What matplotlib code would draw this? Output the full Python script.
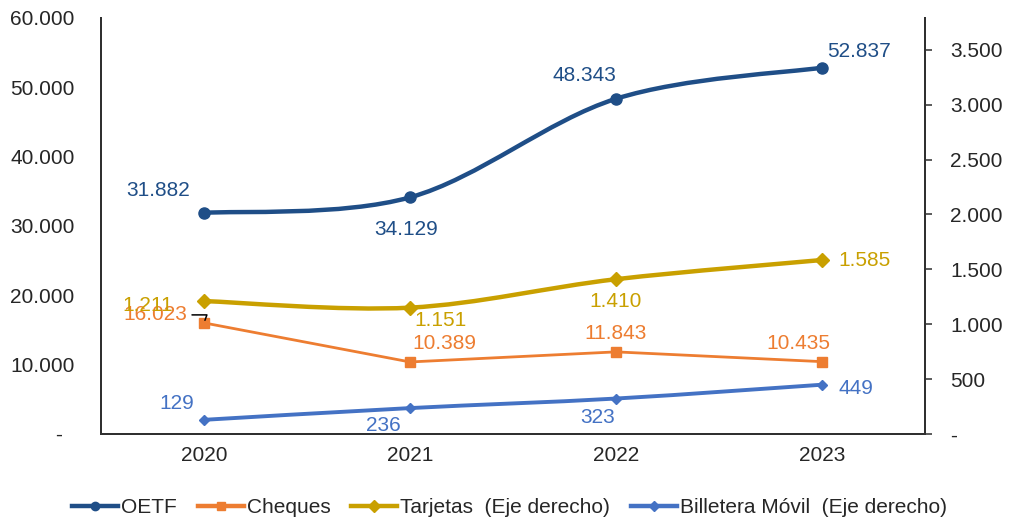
import numpy as np
from matplotlib import pyplot as plt
from matplotlib.path import Path
from matplotlib.patches import PathPatch
from matplotlib.lines import Line2D
from matplotlib.ticker import FuncFormatter

plt.rcParams['font.family'] = ['Liberation Sans', 'DejaVu Sans']

years = ['2020', '2021', '2022', '2023']
oetf = [31882, 34129, 48343, 52837]
cheques = [16023, 10389, 11843, 10435]
tarjetas = [1211, 1151, 1410, 1585]
billetera = [129, 236, 323, 449]

c_oetf = '#1F4E87'
c_cheq = '#ED7D31'
c_tarj = '#C9A000'
c_bill = '#4472C4'
c_txt = '#262626'


def fmt(v):
    return '{:,.0f}'.format(v).replace(',', '.')


def smooth_path(x, y):
    # Catmull-Rom style bezier through the points (like excel smoothed lines)
    p = np.column_stack([x, y]).astype(float)
    n = len(p)
    verts = [p[0]]
    codes = [Path.MOVETO]
    for i in range(n - 1):
        p0 = p[i - 1] if i > 0 else p[i]
        p3 = p[i + 2] if i + 2 < n else p[i + 1]
        c1 = p[i] + (p[i + 1] - p0) / 6.0
        c2 = p[i + 1] - (p3 - p[i]) / 6.0
        verts += [c1, c2, p[i + 1]]
        codes += [Path.CURVE4] * 3
    return Path(verts, codes)


fig = plt.figure(figsize=(10.09, 5.21), dpi=100)
ax = fig.add_axes([0.1001, 0.167, 0.8166, 0.7985])
ax2 = ax.twinx()

x = np.arange(len(years))

ax.set_xlim(-0.5, 3.5)
ax.set_ylim(0, 60000)
ax2.set_ylim(0, 3790)

# OETF (left, smoothed)
ax.add_patch(PathPatch(smooth_path(x, oetf), fill=False, edgecolor=c_oetf, lw=3.2, zorder=3))
ax.plot(x, oetf, 'o', color=c_oetf, ms=8, zorder=4)
# Cheques (left, straight)
ax.plot(x, cheques, '-s', color=c_cheq, lw=2.0, ms=6.5, zorder=3)
# Tarjetas (right, smoothed)
ax2.add_patch(PathPatch(smooth_path(x, tarjetas), fill=False, edgecolor=c_tarj, lw=3.2, zorder=3))
ax2.plot(x, tarjetas, 'D', color=c_tarj, ms=7.5, zorder=4)
# Billetera (right, smoothed)
ax2.add_patch(PathPatch(smooth_path(x, billetera), fill=False, edgecolor=c_bill, lw=2.8, zorder=3))
ax2.plot(x, billetera, 'D', color=c_bill, ms=5.5, zorder=4)

lab_kw = dict(textcoords='offset pixels', fontsize=15, ha='center', va='center')

off_oetf = [(-46, 22), (-4, -32), (-32, 23), (37, 16)]
off_cheq = [(-49, 8), (34, 18), (0, 18), (-24, 18)]
off_tarj = [(-56, -4), (31, -13), (0, -22), (43, 0)]
off_bill = [(-27, 16), (-27, -17), (-18, -19), (34, -4)]

for i in range(len(years)):
    ax.annotate(fmt(oetf[i]), (x[i], oetf[i]), xytext=off_oetf[i], color=c_oetf, **lab_kw)
    ax.annotate(fmt(cheques[i]), (x[i], cheques[i]), xytext=off_cheq[i], color=c_cheq, **lab_kw)
    ax2.annotate(fmt(tarjetas[i]), (x[i], tarjetas[i]), xytext=off_tarj[i], color=c_tarj, **lab_kw)
    ax2.annotate(fmt(billetera[i]), (x[i], billetera[i]), xytext=off_bill[i], color=c_bill, **lab_kw)

# little leader line of the first cheques label
ax.annotate('', (x[0], cheques[0]), xytext=(-12, 8), textcoords='offset pixels',
            arrowprops=dict(arrowstyle='-', color='black', lw=1.1, shrinkA=0, shrinkB=2,
                            connectionstyle='angle,angleA=0,angleB=70,rad=0'), zorder=5)

ax.set_xticks(x)
ax.set_xticklabels(years)
ax.set_yticks(np.arange(0, 60001, 10000))
ax.yaxis.set_major_formatter(FuncFormatter(lambda v, p: '-  ' if v == 0 else fmt(v)))
ax2.set_yticks(np.arange(0, 3501, 500))
ax2.yaxis.set_major_formatter(FuncFormatter(lambda v, p: '-' if v == 0 else fmt(v)))

ax.tick_params(axis='x', length=0, pad=9, labelsize=15, labelcolor=c_txt)
ax.tick_params(axis='y', length=0, pad=19, labelsize=15, labelcolor=c_txt)
ax2.tick_params(axis='y', direction='out', length=5, width=1.2, color='#404040',
                pad=13, labelsize=15, labelcolor=c_txt)

for a in (ax, ax2):
    a.spines['top'].set_visible(False)
    for s in ('left', 'right', 'bottom'):
        a.spines[s].set_linewidth(1.4)
        a.spines[s].set_color('#303030')

handles = [
    Line2D([], [], color=c_oetf, lw=3.2, marker='o', ms=6),
    Line2D([], [], color=c_cheq, lw=3.2, marker='s', ms=6),
    Line2D([], [], color=c_tarj, lw=3.2, marker='D', ms=6),
    Line2D([], [], color=c_bill, lw=3.2, marker='D', ms=5),
]
labels = ['OETF', 'Cheques', 'Tarjetas  (Eje derecho)', 'Billetera Móvil  (Eje derecho)']
fig.legend(handles, labels, loc='center', bbox_to_anchor=(0.505, 0.025), ncol=4,
           frameon=False, fontsize=15, handlelength=2.2, handletextpad=0.15,
           columnspacing=1.0, labelcolor=c_txt)

plt.savefig('out.png', dpi=100)
plt.close()
